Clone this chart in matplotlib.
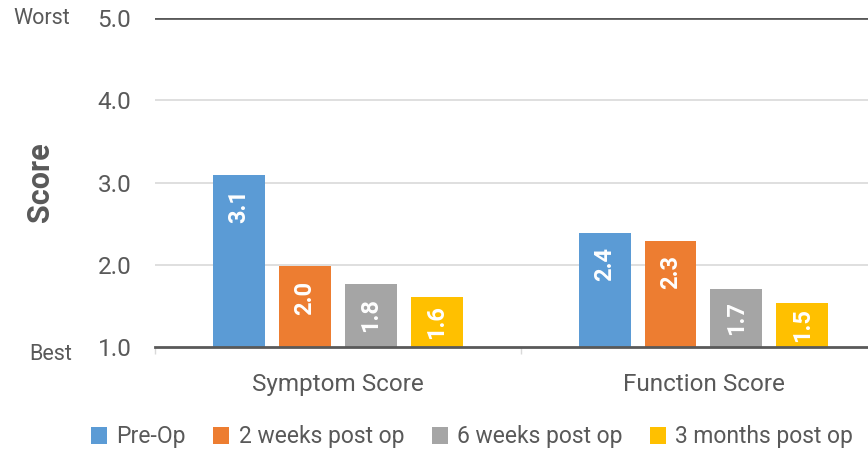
import numpy as np
import matplotlib
matplotlib.use('Agg')
import matplotlib.pyplot as plt

# data
categories = ['Symptom Score', 'Function Score']
series = ['Pre-Op', '2 weeks post op', '6 weeks post op', '3 months post op']
pre_op = [3.09, 2.39]
weeks_2 = [1.98, 2.29]
weeks_6 = [1.76, 1.71]
months_3 = [1.61, 1.54]
colors = ['#5B9BD5', '#ED7D31', '#A5A5A5', '#FFC000']

plt.rcParams['font.family'] = ['Roboto', 'DejaVu Sans']
text_col = '#595959'

fig = plt.figure(figsize=(8.68, 4.53), dpi=100)
ax = fig.add_axes([155 / 868, 1 - 347 / 453, 1 - 155 / 868, (347 - 18) / 453])

x = np.arange(len(categories))
width = 52 / 366
step = 66 / 366
all_vals = [pre_op, weeks_2, weeks_6, months_3]

ax.set_xlim(-0.5, 1.45)
ax.set_ylim(1.0, 5.0)

px_per_unit = 329 / 4.0
for i, (vals, c, name) in enumerate(zip(all_vals, colors, series)):
    pos = x + (i - 1.5) * step
    ax.bar(pos, np.array(vals) - 1.0, bottom=1.0, width=width, color=c,
           label=name, zorder=3)
    for xp, v in zip(pos, vals):
        h_px = (v - 1.0) * px_per_unit
        off = min(14, (h_px - 34) / 2)
        ax.annotate(f'{v:.1f}', xy=(xp, v), xytext=(0, -off * 0.72),
                    textcoords='offset points', rotation=90, ha='center', va='top',
                    color='white', fontsize=17, fontweight='bold', zorder=4)

# grid and axes
ax.set_yticks([1, 2, 3, 4, 5])
ax.set_yticklabels(['1.0', '2.0', '3.0', '4.0', '5.0'])
for yv in [2, 3, 4]:
    ax.axhline(yv, color='#D9D9D9', lw=1.2, zorder=1)
ax.axhline(5.0, color='#595959', lw=2, zorder=2)
for s in ['top', 'right', 'left']:
    ax.spines[s].set_visible(False)
ax.spines['bottom'].set_color('#595959')
ax.spines['bottom'].set_linewidth(2)
ax.spines['bottom'].set_zorder(5)
ax.tick_params(axis='y', length=0, pad=17, labelsize=17.5, labelcolor=text_col)
ax.set_xticks([-0.5, 0.5])
ax.set_xticklabels(['', ''])
ax.tick_params(axis='x', length=5, width=1, color='#D9D9D9', direction='out')
for xc, lab in zip(x, categories):
    ax.text(xc, -0.115, lab, transform=ax.get_xaxis_transform(), ha='center', va='center',
            fontsize=17.5, color=text_col)

ax.set_ylabel('Score', fontsize=22, fontweight='bold', color=text_col, labelpad=0)
ax.yaxis.set_label_coords(-(155 - 55) / 713, 0.5)

fig.text(70 / 868, 1 - 18 / 453, 'Worst', ha='right', va='center', fontsize=15.5, color=text_col)
fig.text(72 / 868, 1 - 354 / 453, 'Best', ha='right', va='center', fontsize=15.5, color=text_col)

fig.legend(loc='center', bbox_to_anchor=(472 / 868, 1 - 437 / 453), ncol=4, frameon=False,
           fontsize=16.5, handlelength=0.7, handleheight=0.7, handletextpad=0.4,
           columnspacing=1.2, labelcolor=text_col)

fig.savefig('out.png', dpi=100)
